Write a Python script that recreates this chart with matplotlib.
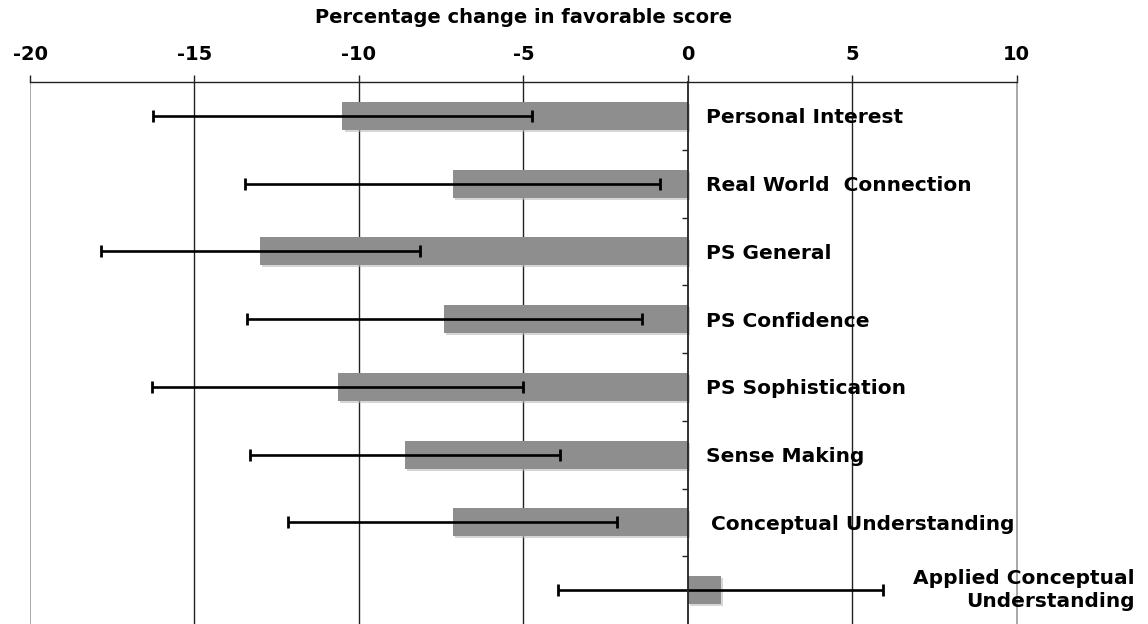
import matplotlib
matplotlib.use("Agg")
import matplotlib.pyplot as plt
import matplotlib.patheffects as pe
import numpy as np

categories = ["Personal Interest", "Real World  Connection", "PS General",
              "PS Confidence", "PS Sophistication", "Sense Making",
              "Conceptual Understanding", "Applied Conceptual\nUnderstanding"]
changes = [-10.5, -7.15, -13.0, -7.4, -10.65, -8.6, -7.15, 1.0]
errors = [5.75, 6.3, 4.85, 6.0, 5.65, 4.7, 5.0, 4.95]
x_ticks = [-20, -15, -10, -5, 0, 5, 10]

plt.rcParams['font.family'] = ['DejaVu Sans']
fig = plt.figure(figsize=(11.48, 6.24), dpi=100)
ax = fig.add_axes([30 / 1148, 0.0, (1016.7 - 30) / 1148, (624 - 82) / 624])

y = np.arange(len(categories))
shadow = [pe.SimplePatchShadow(offset=(1.5, -1.5), shadow_rgbFace='#bbbbbb', alpha=0.6),
          pe.Normal()]
bars = ax.barh(y, changes, height=0.41, color='#8e8e8e', zorder=2)
for b in bars:
    b.set_path_effects(shadow)

ax.errorbar(changes, y, xerr=errors, fmt='none', ecolor='black',
            elinewidth=1.9, capsize=4.5, capthick=2.0, zorder=4)

ax.set_xlim(-20, 10)
ax.set_ylim(7.5, -0.5)

# vertical grid
for gx in [-15, -10, -5, 5]:
    ax.axvline(gx, color='#222222', lw=1.0, zorder=1)
ax.axvline(-20, color='#999999', lw=1.2, zorder=1)

# spines
ax.spines['bottom'].set_visible(False)
ax.spines['right'].set_color('#999999')
ax.spines['right'].set_linewidth(1.2)
ax.spines['top'].set_color('#222222')
ax.spines['top'].set_linewidth(1.0)
ax.spines['left'].set_position(('data', 0))
ax.spines['left'].set_linewidth(1.3)
ax.spines['left'].set_color('#222222')
ax.spines['left'].set_zorder(5)

# x axis on top
ax.xaxis.tick_top()
ax.xaxis.set_label_position('top')
ax.set_xticks(x_ticks)
ax.set_xticklabels([str(t) for t in x_ticks], fontsize=14, fontweight='bold')
ax.tick_params(axis='x', which='major', direction='out', length=5, width=1.0,
               color='#222222', pad=8)
ax.set_xlabel("Percentage change in favorable score", fontsize=14,
              fontweight='bold', labelpad=16)

# y axis: small separator ticks between categories on the zero line
ax.set_yticks([])
ax.set_yticks(np.arange(0.5, len(categories) - 0.5, 1.0), minor=True)
ax.tick_params(axis='y', which='minor', direction='out', length=4.5, width=1.0,
               color='#222222', labelleft=False)

label_x = [0.56, 0.56, 0.56, 0.56, 0.56, 0.56, 0.7]
for i, name in enumerate(categories):
    if "\n" in name:
        ax.text(13.6, i, name, ha='right', va='center', fontsize=14.5,
                fontweight='bold', clip_on=False, linespacing=1.3)
    else:
        ax.text(label_x[i], i + 0.03, name, ha='left', va='center', fontsize=14.5,
                fontweight='bold', zorder=6)

fig.savefig("out.png", dpi=100)
